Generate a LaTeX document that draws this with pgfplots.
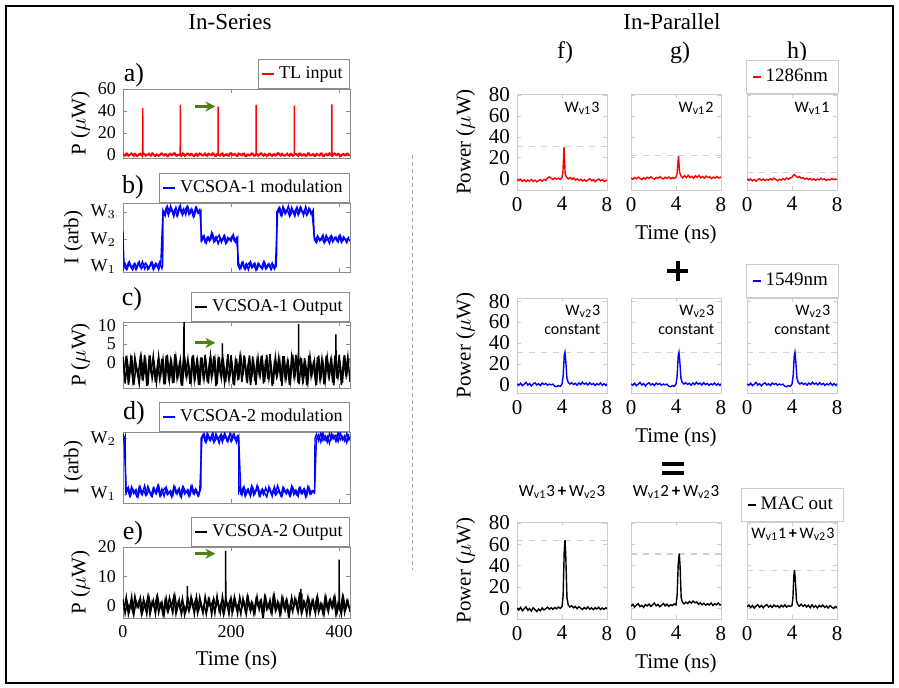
\documentclass[border=0pt]{standalone}
\usepackage{fontspec}
\setmainfont{Liberation Serif}
\newfontfamily\carl{Carlito}
\usepackage{pgfplots}
\usepackage{pgfplotstable}
\pgfplotsset{compat=1.18}
\usetikzlibrary{arrows.meta}

\definecolor{grn}{RGB}{78,128,22}
\definecolor{frameL}{RGB}{140,140,140}
\definecolor{frameR}{RGB}{205,205,205}

% blue 1549nm pulse, same in all three middle panels
\pgfplotstableread{
t p
0 0.8
0.16 -0.6
0.32 1.4
0.48 -1.0
0.64 0.5
0.8 2.2
0.96 -0.4
1.12 1.0
1.28 -1.2
1.44 0.7
1.6 1.8
1.76 -0.3
1.92 0.9
2.08 -0.8
2.24 1.5
2.4 0.2
2.56 1.1
2.72 -0.5
2.88 0.6
3.04 -0.2
3.2 0.4
3.36 -1.4
3.52 -2.0
3.68 -0.9
3.84 -1.6
4.0 0.5
4.1 8
4.2 28
4.26 31
4.34 22
4.44 6
4.56 2.0
4.7 0.6
4.86 1.8
5.02 0.2
5.18 1.3
5.34 -0.5
5.5 1.6
5.66 0.1
5.82 2.3
5.98 0.4
6.14 1.5
6.3 -0.3
6.46 1.9
6.62 0.0
6.78 1.2
6.94 -0.7
7.1 0.9
7.26 -0.2
7.42 1.6
7.58 -0.6
7.74 1.0
7.9 -0.8
8.0 0.9
}\bluepulse

\tikzset{ann/.style={font=\carl\fontsize{8}{9.5}\selectfont, align=right, inner sep=0pt}}

\pgfplotsset{
  legend image code/.code={\draw[#1,line width=0.8pt] (0pt,0pt) -- (6pt,0pt);},
  base/.style={scale only axis, tick align=inside, major tick length=2pt,
    /pgf/number format/assume math mode=true, legend cell align=left},
  lp/.style={base, width=113.5pt, xmin=0, xmax=420, xtick={0,200,400}, xticklabels={},
    axis line style={frameL}, tick style={frameL},
    tick label style={font=\fontsize{9}{9}\selectfont},
    label style={font=\fontsize{10.5}{11}\selectfont},
    ylabel shift=-3pt,
    legend style={at={(1,1)}, anchor=south east, draw=frameL,
      font=\fontsize{9}{10}\selectfont, inner sep=1.5pt}},
  rp/.style={base, width=45pt, xmin=0, xmax=8, xtick={0,4,8}, ytick={0,20,40,60,80},
    axis line style={frameR}, tick style={frameR},
    tick label style={font=\fontsize{10.5}{11}\selectfont},
    label style={font=\fontsize{10.5}{11}\selectfont},
    legend style={at={(0.5,1)}, anchor=south, draw=frameR,
      font=\fontsize{9.5}{10}\selectfont, inner xsep=3pt, inner ysep=2.5pt}},
  r1/.style={rp, height=48pt, ymin=-11, ymax=81},
  r2/.style={rp, height=47.5pt, ymin=-8, ymax=83},
  r3/.style={rp, height=48.5pt, ymin=-10, ymax=81},
  refl/.style={gray!35, dashed, line width=0.6pt, forget plot},
  ttl/.style={title style={font=\carl\fontsize{8.5}{9}\selectfont, yshift=2pt}},
}

\begin{document}
\begin{tikzpicture}
\begin{scope}[x=0.5pt,y=-0.5pt]
\path[use as bounding box] (0,0) rectangle (899,688);
\draw[line width=1pt] (6,6) rectangle (893,683);
\node[font=\fontsize{11.5}{12}\selectfont] at (230,22) {In-Series};
\node[font=\fontsize{11.5}{12}\selectfont] at (672,22) {In-Parallel};
\draw[gray!70, dash pattern=on 2pt off 1.5pt, line width=0.5pt] (412,155) -- (412,570);
\node[font=\fontsize{13}{13}\selectfont] at (134,75) {a)};
\node[font=\fontsize{13}{13}\selectfont] at (133,187) {b)};
\node[font=\fontsize{13}{13}\selectfont] at (132,299) {c)};
\node[font=\fontsize{13}{13}\selectfont] at (134,413) {d)};
\node[font=\fontsize{13}{13}\selectfont] at (133,533) {e)};
\node[font=\fontsize{12}{12}\selectfont] at (565,53) {f)};
\node[font=\fontsize{12}{12}\selectfont] at (680,53) {g)};
\node[font=\fontsize{12}{12}\selectfont] at (797,53) {h)};
\draw[line width=2pt] (667,271) -- (688,271) (677.5,261) -- (677.5,281);
\draw[line width=2pt] (662,464) -- (684,464) (662,473) -- (684,473);
\end{scope}

% ---------------- In-Series ----------------
\begin{axis}[lp, at={(61.5pt,-79pt)}, anchor=south west, height=34.5pt,
  ymin=-3, ymax=60, ytick={0,20,40,60}, ylabel={P ($\mu$W)}]
\addplot[red, line width=0.7pt] coordinates {
(0,0.8) (4,-1.2) (8,1.1) (12,-0.6) (16,1.5) (20,-1.4) (24,0.3) (28,-0.9) (32,1.2) (36,-1.6)
(36.4,0.2) (36.6,42.5) (36.8,0.1)
(40,0.7) (44,-0.4) (48,1.3) (52,-1.1) (56,0.9) (60,-1.5) (64,0.2) (68,-0.8) (72,1.4) (76,-1.0)
(80,0.6) (84,-1.3) (88,1.0) (92,-0.5) (96,1.6) (100,-1.2) (104,0.4)
(105.8,0.3) (106,45.5) (106.2,0.2)
(108,-1.4) (112,1.1) (116,-0.7) (120,1.3) (124,-0.9) (128,0.5) (132,-1.6) (136,1.2) (140,-0.3)
(144,0.9) (148,-1.1) (152,1.5) (156,-1.3) (160,0.7) (164,-0.6) (168,1.1) (172,-1.5)
(175.8,0.3) (176,44) (176.2,0.2)
(180,-1.0) (184,1.4) (188,-0.8) (192,0.8) (196,-1.2) (200,1.6) (204,-0.5) (208,0.6) (212,-1.4)
(216,1.0) (220,-0.9) (224,1.3) (228,-1.6) (232,0.4) (236,-0.7) (240,1.2) (244,-1.1)
(246.1,0.2) (246.3,45.5) (246.5,0.1)
(248,0.9) (252,-0.4) (256,1.5) (260,-1.3) (264,0.5) (268,-1.0) (272,1.1) (276,-1.5) (280,0.8)
(284,-0.6) (288,1.4) (292,-1.2) (296,0.2) (300,-0.9) (304,1.3) (308,-1.4) (312,0.7) (316,-0.5)
(316.8,0.2) (317,44.8) (317.2,0.1)
(320,1.0) (324,-1.6) (328,1.2) (332,-0.8) (336,0.6) (340,-1.1) (344,1.5) (348,-0.7) (352,0.9)
(356,-1.3) (360,0.4) (364,-1.0) (368,1.3) (372,-1.5) (376,1.1) (380,-0.6) (384,0.8)
(386.4,0.2) (386.6,46) (386.8,0.1)
(388,-1.2) (392,1.4) (396,-0.9) (400,0.5) (404,-1.3) (408,1.0) (412,-0.7) (416,1.2) (420,-1.1)
};
\addlegendentry{TL input}
\addplot[red, line width=0.7pt, forget plot] coordinates {
(2,-0.9) (6,1.3) (10,-1.4) (14,0.6) (18,-0.2) (22,1.1) (26,-1.5) (30,0.9) (34,-0.6) (38,1.4)
(42,-1.2) (46,0.3) (50,-0.8) (54,1.6) (58,-1.0) (62,0.5) (66,-1.3) (70,1.2) (74,-0.4) (78,0.8)
(82,-1.6) (86,1.0) (90,-0.7) (94,1.5) (98,-1.1) (102,0.2) (106,-0.9) (110,1.3) (114,-1.4) (118,0.7)
(122,-0.3) (126,1.1) (130,-1.2) (134,0.6) (138,-1.5) (142,1.4) (146,-0.8) (150,0.4) (154,-1.0) (158,1.2)
(162,-0.5) (166,1.6) (170,-1.3) (174,0.9) (178,-0.7) (182,1.0) (186,-1.4) (190,0.3) (194,-1.1) (198,1.5)
(202,-0.6) (206,0.8) (210,-1.2) (214,1.3) (218,-0.2) (222,1.1) (226,-1.5) (230,0.5) (234,-0.9) (238,1.4)
(242,-1.0) (246,0.7) (250,-1.3) (254,1.2) (258,-0.4) (262,0.9) (266,-1.6) (270,1.0) (274,-0.8) (278,0.6)
(282,-1.1) (286,1.5) (290,-0.5) (294,1.3) (298,-1.2) (302,0.4) (306,-0.7) (310,1.1) (314,-1.4) (318,0.8)
(322,-0.3) (326,1.2) (330,-1.0) (334,0.6) (338,-1.5) (342,1.4) (346,-0.9) (350,0.2) (354,-1.2) (358,1.0)
(362,-0.6) (366,1.3) (370,-1.3) (374,0.5) (378,-0.8) (382,1.6) (386,-1.1) (390,0.9) (394,-0.4) (398,1.2)
(402,-1.4) (406,0.7) (410,-0.7) (414,1.1) (418,-1.0)
};
\draw[grn, line width=1.6pt, -{Stealth[length=5pt,width=5pt]}] (axis cs:134,44) -- (axis cs:171,44);
\end{axis}

\begin{axis}[lp, at={(61.5pt,-136pt)}, anchor=south west, height=34.5pt,
  ymin=0.82, ymax=3.33, ytick={1,2,3}, yticklabels={W$_1$,W$_2$,W$_3$}, ylabel={I (arb)}]
\addplot[blue, line width=0.7pt] coordinates {
(0,2.3) (1,1.6) (2,1.0)
(4,1.12) (8,0.94) (12,1.18) (16,0.98) (20,1.10) (24,0.90) (28,1.15) (32,1.00) (36,1.20) (40,0.93)
(44,1.08) (48,0.96) (52,1.17) (56,0.91) (60,1.13) (64,0.99) (68,1.19) (72,0.95) (73.5,1.05)
(74,3.0) (76,2.92) (80,3.15) (84,2.88) (88,3.22) (92,2.95) (96,3.10) (100,2.85) (104,3.18)
(108,2.97) (112,3.12) (116,2.90) (120,3.20) (124,2.94) (128,3.08) (132,2.87) (136,3.16)
(140,2.96) (144,3.05)
(144.6,2.0) (148,2.12) (152,1.90) (156,2.08) (160,1.95) (164,2.25) (168,1.92) (172,2.10)
(176,1.85) (180,2.06) (184,1.97) (188,2.15) (192,1.89) (196,2.04) (200,1.94) (204,2.18)
(208,1.91) (212,2.07)
(212.7,1.05) (216,0.93) (220,1.16) (224,0.97) (228,1.12) (232,0.90) (236,1.19) (240,1.00)
(244,1.14) (248,0.92) (252,1.10) (256,0.97) (260,1.18) (264,0.94) (268,1.09) (272,0.99)
(276,1.15) (280,0.92) (284,1.06)
(284.6,3.0) (288,3.14) (292,2.90) (296,3.20) (300,2.93) (304,3.09) (308,2.86) (312,3.17)
(316,2.95) (320,3.11) (324,2.89) (328,3.19) (332,2.98) (336,3.06) (340,2.88) (344,3.14)
(348,2.92) (352,3.08)
(353.9,2.0) (356,1.93) (360,2.14) (364,1.96) (368,2.09) (372,1.88) (376,2.16) (380,1.99)
(384,2.11) (388,1.91) (392,2.07) (396,1.95) (400,2.13) (404,1.90) (408,2.10) (412,1.97)
(416,2.05) (420,1.94)
};
\addlegendentry{VCSOA-1 modulation}
\addplot[blue, line width=0.7pt, forget plot] coordinates {
(2,1.08) (6,0.92) (10,1.16) (14,1.01) (18,0.89) (22,1.13) (26,0.97) (30,1.19) (34,0.94) (38,1.06)
(42,1.15) (46,0.91) (50,1.04) (54,1.17) (58,0.96) (62,1.11) (66,0.90) (70,1.14)
(74,3.06) (78,2.86) (82,3.21) (86,2.99) (90,3.13) (94,2.84) (98,3.17) (102,2.93) (106,3.24)
(110,2.89) (114,3.04) (118,3.19) (122,2.91) (126,3.11) (130,2.83) (134,3.15) (138,2.98) (142,3.09)
(146,1.96) (150,2.14) (154,1.87) (158,2.09) (162,1.99) (166,2.20) (170,1.93) (174,2.05) (178,2.16)
(182,1.90) (186,2.11) (190,1.86) (194,2.08) (198,2.00) (202,2.13) (206,1.95) (210,2.06)
(214,1.13) (218,0.95) (222,1.18) (226,0.91) (230,1.07) (234,1.16) (238,0.98) (242,1.11) (246,0.89)
(250,1.14) (254,1.02) (258,0.93) (262,1.17) (266,0.96) (270,1.12) (274,0.90) (278,1.09) (282,1.01)
(286,2.94) (290,3.16) (294,2.87) (298,3.12) (302,3.00) (306,3.22) (310,2.90) (314,3.07) (318,2.85)
(322,3.18) (326,2.96) (330,3.13) (334,2.88) (338,3.20) (342,2.95) (346,3.10) (350,2.92)
(354,2.12) (358,1.89) (362,2.06) (366,1.97) (370,2.17) (374,1.92) (378,2.03) (382,1.86) (386,2.13)
(390,1.98) (394,2.09) (398,1.91) (402,2.15) (406,1.94) (410,2.05) (414,1.88) (418,2.11)
};
\end{axis}

\begin{axis}[lp, at={(61.5pt,-194pt)}, anchor=south west, height=33pt,
  ymin=-7, ymax=11, ytick={0,5,10}, ylabel={P ($\mu$W)}]
\addplot[black, line width=0.75pt] coordinates {
(0,1.5) (4,-5.8) (8,0.2) (12,-4.1) (16,1.9) (20,-6.2) (24,-1.0) (28,-3.5) (32,1.2) (36,-5.0)
(40,2.0) (44,-6.4) (48,0.6) (52,-2.8) (56,1.7) (60,-5.5) (64,-0.4) (68,-4.6) (72,1.0) (76,-6.0)
(80,1.8) (84,-3.9) (88,0.4) (92,-5.7) (96,2.2) (100,-4.4) (104,-0.8) (108,-6.3) (112,1.4)
(113,11) (113.3,-1)
(116,-3.2) (120,0.9) (124,-5.9) (128,1.6) (132,-4.8) (136,-0.2) (140,-6.1) (144,1.3) (148,-3.6)
(152,2.1) (156,-5.3) (160,0.1) (164,-4.2) (168,1.7) (172,-6.5) (176,0.7) (180,-3.0)
(183.8,1.5) (184,5.2) (184.2,-1)
(188,-5.6) (192,-0.6) (196,-4.9) (200,2.0) (204,-6.0) (208,0.3) (212,-3.8) (216,1.1) (220,-5.4)
(224,1.9) (228,-4.0) (232,-0.1) (236,-6.2) (240,1.6) (244,-5.1) (248,0.5) (252,-3.3) (256,1.8)
(260,-5.8) (264,0.8) (268,-4.5) (272,2.2) (276,-6.4) (280,-0.3) (284,-3.7) (288,1.2) (292,-5.2)
(296,1.7) (300,-4.3) (304,0.0) (308,-6.1) (312,1.4) (316,-3.4) (320,2.0) (324,-5.6)
(324.8,0.5) (325,10.4) (325.2,-1)
(328,0.6) (332,-4.7) (336,1.1) (340,-6.3) (344,1.9) (348,-3.9) (352,-0.5) (356,-5.0) (360,1.5)
(364,-4.1) (368,0.9) (372,-6.0) (376,1.8) (380,-3.6) (384,0.2) (388,-5.5) (392,1.3)
(393.8,0.8) (394,7.6) (394.2,-1)
(396,-4.4) (400,2.1) (404,-6.2) (408,0.4) (412,-3.1) (416,1.6) (420,-5.3)
};
\addlegendentry{VCSOA-1 Output}
\addplot[black, line width=0.75pt, forget plot] coordinates {
(2,-3.0) (6,1.8) (10,-6.1) (14,0.5) (18,-4.7) (22,1.4) (26,-2.2) (30,-5.9) (34,1.1) (38,-3.8)
(42,0.3) (46,-6.3) (50,1.9) (54,-4.4) (58,-0.7) (62,-5.5) (66,1.6) (70,-3.3) (74,0.8) (78,-6.0)
(82,2.1) (86,-4.9) (90,-0.2) (94,-5.6) (98,1.2) (102,-3.5) (106,0.6) (110,-6.4) (114,1.7) (118,-4.0)
(122,-1.1) (126,-5.2) (130,2.0) (134,-3.7) (138,0.4) (142,-6.2) (146,1.3) (150,-4.6) (154,-0.5) (158,-5.8)
(162,1.8) (166,-2.9) (170,0.9) (174,-6.0) (178,1.5) (182,-4.3) (186,0.0) (190,-5.4) (194,2.2) (198,-3.6)
(202,-0.8) (206,-6.3) (210,1.0) (214,-4.8) (218,1.6) (222,-3.1) (226,0.2) (230,-5.7) (234,1.9) (238,-4.1)
(242,-0.4) (246,-6.1) (250,1.2) (254,-3.4) (258,0.7) (262,-5.3) (266,2.0) (270,-4.5) (274,-0.9) (278,-5.9)
(282,1.4) (286,-3.2) (290,0.5) (294,-6.4) (298,1.7) (302,-4.2) (306,-0.3) (310,-5.0) (314,2.1) (318,-3.9)
(322,0.8) (326,-6.0) (330,1.1) (334,-4.6) (338,-0.6) (342,-5.5) (346,1.6) (350,-3.0) (354,0.3) (358,-6.2)
(362,1.9) (366,-4.4) (370,-0.1) (374,-5.1) (378,1.3) (382,-3.7) (386,0.6) (390,-6.3) (394,1.5) (398,-4.0)
(402,-0.7) (406,-5.6) (410,2.0) (414,-3.3) (418,1.0)
};
\draw[grn, line width=1.6pt, -{Stealth[length=5pt,width=5pt]}] (axis cs:134,5.3) -- (axis cs:171,5.3);
\end{axis}

\begin{axis}[lp, at={(61.5pt,-251.5pt)}, anchor=south west, height=35.5pt,
  ymin=0.84, ymax=2.11, ytick={1,2}, yticklabels={W$_1$,W$_2$}, ylabel={I (arb)}]
\addplot[blue, line width=0.7pt] coordinates {
(0,2.08) (2,1.95) (4,2.02) (5,1.05)
(8,1.10) (12,0.98) (16,1.13) (20,1.01) (24,1.08) (28,0.96) (32,1.12) (36,1.00) (40,1.15)
(44,0.99) (48,1.07) (52,0.97) (56,1.11) (60,1.02) (64,1.14) (68,0.98) (72,1.09) (76,0.96)
(80,1.12) (84,1.01) (88,1.06) (92,0.97) (96,1.13) (100,1.00) (104,1.10) (108,0.95) (112,1.12)
(116,1.03) (120,1.08) (124,0.98) (128,1.14) (132,1.00) (136,1.07) (140,0.97) (144,1.11)
(144.6,2.0) (148,2.06) (152,1.94) (156,2.09) (160,1.97) (164,2.04) (168,1.92) (172,2.08)
(176,1.98) (180,2.05) (184,1.93) (188,2.10) (192,1.96) (196,2.03) (200,1.94) (204,2.07)
(208,1.97) (212,2.04) (214,2.00)
(214.5,1.05) (216,1.10) (220,0.98) (224,1.13) (228,1.00) (232,1.08) (236,0.96) (240,1.12)
(244,1.01) (248,1.15) (252,0.97) (256,1.07) (260,0.99) (264,1.11) (268,1.02) (272,1.09)
(276,0.96) (280,1.13) (284,1.00) (288,1.06) (292,0.97) (296,1.12) (300,1.03) (304,1.08)
(308,0.98) (312,1.14) (316,0.99) (320,1.07) (324,0.96) (328,1.11) (332,1.01) (336,1.09)
(340,0.97) (344,1.12) (348,1.00) (352,1.06) (354.8,1.04)
(355.2,2.0) (358,2.07) (362,1.95) (366,2.09) (370,1.96) (374,2.04) (378,1.93) (382,2.08)
(386,1.98) (390,2.05) (394,1.94) (398,2.10) (402,1.97) (406,2.03) (410,1.95) (414,2.08)
(418,1.97) (420,2.03)
};
\addlegendentry{VCSOA-2 modulation}
\addplot[blue, line width=0.7pt, forget plot] coordinates {
(2,2.04)
(6,1.02) (10,1.12) (14,0.97) (18,1.09) (22,1.04) (26,0.95) (30,1.13) (34,1.00) (38,1.07) (42,0.98)
(46,1.14) (50,1.03) (54,0.96) (58,1.10) (62,1.01) (66,1.15) (70,0.97) (74,1.06) (78,1.11) (82,0.99)
(86,1.04) (90,0.95) (94,1.13) (98,1.02) (102,1.08) (106,0.97) (110,1.12) (114,1.00) (118,1.05) (122,0.96)
(126,1.14) (130,1.01) (134,1.09) (138,0.98) (142,1.06)
(146,1.99) (150,2.08) (154,1.93) (158,2.05) (162,1.96) (166,2.10) (170,1.95) (174,2.02) (178,1.91)
(182,2.07) (186,1.98) (190,2.04) (194,1.94) (198,2.09) (202,1.97) (206,2.06) (210,1.92) (214,2.03)
(218,1.03) (222,1.11) (226,0.96) (230,1.08) (234,1.00) (238,1.14) (242,0.98) (246,1.05) (250,1.12) (254,0.97)
(258,1.09) (262,1.02) (266,0.95) (270,1.13) (274,1.01) (278,1.07) (282,0.99) (286,1.15) (290,1.04) (294,0.96)
(298,1.10) (302,1.00) (306,1.06) (310,0.97) (314,1.12) (318,1.03) (322,0.98) (326,1.11) (330,1.01) (334,1.08)
(338,0.95) (342,1.13) (346,1.00) (350,1.06) (354,1.02)
(358,1.98) (362,2.06) (366,1.93) (370,2.09) (374,1.96) (378,2.03) (382,1.91) (386,2.08) (390,1.99)
(394,2.05) (398,1.94) (402,2.10) (406,1.97) (410,2.04) (414,1.92) (418,2.07)
};
\end{axis}

\begin{axis}[lp, at={(61.5pt,-309pt)}, anchor=south west, height=35.5pt,
  ymin=-4.3, ymax=20, ytick={0,10,20}, ylabel={P ($\mu$W)},
  xticklabels={0,200,400}, xlabel={Time (ns)}]
\addplot[black, line width=0.75pt] coordinates {
(0,2.1) (4,-2.8) (8,0.9) (12,-1.7) (16,3.0) (20,-3.2) (24,1.3) (28,-0.6) (32,2.6) (36,-2.4)
(40,0.4) (44,-3.0) (48,2.8) (52,-1.2) (56,1.7) (60,-2.9) (64,3.1) (68,-0.9) (72,1.1) (76,-3.3)
(80,2.4) (84,-1.9) (88,0.7) (92,-2.6) (96,3.2) (100,-1.4) (104,1.9) (108,-3.1) (112,0.3)
(116,-2.2) (118.8,0.5) (119,6.7) (119.2,0)
(120,2.7) (124,-0.8) (128,1.5) (132,-3.0) (136,2.9) (140,-1.6) (144,0.8) (148,-2.7) (152,3.0)
(156,-1.1) (160,1.8) (164,-3.2) (168,2.3) (172,-0.5) (176,1.2) (180,-2.5) (184,3.1) (188,-1.8)
(189.8,0.5) (190,18.7) (190.2,0)
(192,0.6) (196,-3.0) (200,2.5) (204,-1.3) (208,1.6) (212,-2.8) (216,2.9) (220,-0.7) (224,1.0)
(228,-3.1) (232,2.2) (236,-2.0) (240,0.5) (244,-2.6) (248,3.0) (252,-1.5) (256,1.4) (260,-3.3)
(264,2.6) (268,-0.9) (272,1.9) (276,-2.3) (280,3.2) (284,-1.2) (288,0.8) (292,-2.9) (296,2.4)
(300,-1.7) (304,1.3) (308,-3.0) (312,2.8) (316,-0.6) (320,1.7) (324,-2.4)
(326.8,0.5) (327,4.5) (327.3,0) (328,3.1) (328.8,0.4) (329,5.7) (329.2,0) (330.8,0.5) (331,4.0) (331.2,0)
(332,-1.9) (336,0.9) (340,-3.2) (344,2.0) (348,-1.0) (352,1.5) (356,-2.7) (360,2.9) (364,-1.4)
(368,0.4) (372,-3.0) (376,2.3) (380,-2.1) (384,1.8) (388,-0.8) (392,3.0) (396,-2.6)
(399.8,0.5) (400,15.7) (400.2,0)
(400.6,1.1) (404,-3.1) (408,2.5) (412,-1.3) (416,1.6) (420,-2.2)
};
\addlegendentry{VCSOA-2 Output}
\addplot[black, line width=0.75pt, forget plot] coordinates {
(2,-1.5) (6,2.9) (10,-3.0) (14,0.8) (18,-2.1) (22,3.2) (26,-0.4) (30,1.6) (34,-2.8) (38,2.2)
(42,-1.0) (46,3.0) (50,-3.2) (54,1.2) (58,-0.7) (62,2.6) (66,-2.5) (70,0.5) (74,-3.1) (78,1.9)
(82,-1.7) (86,2.7) (90,-0.3) (94,3.1) (98,-2.9) (102,1.0) (106,-1.4) (110,2.4) (114,-3.3) (118,0.6)
(122,-2.0) (126,3.0) (130,-0.8) (134,1.7) (138,-2.6) (142,2.8) (146,-1.2) (150,0.3) (154,-3.0) (158,2.1)
(162,-0.6) (166,1.4) (170,-2.7) (174,3.2) (178,-1.9) (182,0.9) (186,-3.2) (190,2.5) (194,-0.5) (198,1.8)
(202,-2.4) (206,2.9) (210,-1.1) (214,0.7) (218,-3.0) (222,2.3) (226,-1.6) (230,3.1) (234,-0.9) (238,1.2)
(242,-2.8) (246,2.0) (250,-0.2) (254,1.5) (258,-3.1) (262,2.7) (266,-1.3) (270,0.4) (274,-2.5) (278,3.0)
(282,-1.8) (286,1.1) (290,-2.9) (294,2.6) (298,-0.7) (302,1.9) (306,-3.3) (310,0.8) (314,-2.2) (318,2.4)
(322,-1.0) (326,3.1) (330,-2.6) (334,1.3) (338,-0.5) (342,2.8) (346,-3.0) (350,1.6) (354,-1.5) (358,2.2)
(362,-2.3) (366,0.6) (370,-2.8) (374,3.0) (378,-1.2) (382,1.7) (386,-0.4) (390,2.5) (394,-3.1) (398,0.9)
(402,-1.9) (406,2.9) (410,-2.4) (414,1.4) (418,-0.8)
};
\draw[grn, line width=1.6pt, -{Stealth[length=5pt,width=5pt]}] (axis cs:134,17.7) -- (axis cs:171,17.7);
\end{axis}

% ---------------- In-Parallel, row 1 ----------------
\begin{axis}[r1, at={(258.5pt,-95pt)}, anchor=south west, ylabel={Power ($\mu$W)}]
\addplot[refl] coordinates {(0,30.5) (8,30.5)};
\addplot[red, line width=0.7pt] coordinates {
(0,-0.5) (0.16,-2.1) (0.32,-0.8) (0.48,-2.6) (0.64,-1.2) (0.8,-3.0) (0.96,-1.5) (1.12,-2.4)
(1.28,-0.9) (1.44,-2.8) (1.6,-1.6) (1.76,-3.2) (1.92,-2.0) (2.08,-1.1) (2.24,-2.5) (2.4,-0.7)
(2.56,-1.8) (2.72,0.4) (2.88,1.6) (3.04,0.2) (3.2,-1.0) (3.36,0.5) (3.52,-0.6) (3.68,0.3)
(3.84,-0.9) (4.0,0.8) (4.08,6) (4.18,30) (4.28,5) (4.4,1.2) (4.56,-0.4) (4.72,1.0) (4.88,-0.8)
(5.04,0.6) (5.2,-1.5) (5.36,-0.3) (5.52,-2.0) (5.68,-0.6) (5.84,-2.4) (6.0,-1.0) (6.16,-2.7)
(6.32,-1.3) (6.48,-0.2) (6.64,-2.2) (6.8,-1.0) (6.96,-2.9) (7.12,-1.4) (7.28,-0.5) (7.44,-2.3)
(7.6,-1.1) (7.76,-2.8) (7.92,-1.6) (8.0,-2.2)
};
\node[ann, anchor=north east] at (rel axis cs:0.92,0.92) {W\textsubscript{v1}3};
\end{axis}

\begin{axis}[r1, at={(315.5pt,-95pt)}, anchor=south west, yticklabels={}, xlabel={Time (ns)}]
\addplot[refl] coordinates {(0,22.3) (8,22.3)};
\addplot[red, line width=0.7pt] coordinates {
(0,0.5) (0.16,-0.8) (0.32,1.0) (0.48,-0.3) (0.64,1.4) (0.8,0.1) (0.96,-0.9) (1.12,0.8)
(1.28,-0.5) (1.44,1.2) (1.6,0.0) (1.76,1.6) (1.92,0.3) (2.08,-0.6) (2.24,1.1) (2.4,0.2)
(2.56,1.8) (2.72,0.4) (2.88,-0.4) (3.04,1.3) (3.2,0.1) (3.36,1.5) (3.52,-0.2) (3.68,0.9)
(3.84,0.0) (4.0,1.2) (4.1,5) (4.22,21.6) (4.32,6) (4.44,2.5) (4.6,0.6) (4.76,2.8) (4.92,1.0)
(5.08,3.1) (5.24,0.8) (5.4,2.2) (5.56,0.3) (5.72,2.6) (5.88,1.1) (6.04,3.0) (6.2,0.7)
(6.36,1.9) (6.52,0.2) (6.68,2.4) (6.84,0.9) (7.0,1.7) (7.16,-0.1) (7.32,1.4) (7.48,0.4)
(7.64,2.0) (7.8,0.6) (7.96,1.3) (8.0,0.8)
};
\node[ann, anchor=north east] at (rel axis cs:0.92,0.92) {W\textsubscript{v1}2};
\end{axis}

\begin{axis}[r1, at={(373.5pt,-95pt)}, anchor=south west, yticklabels={},
  legend image code/.code={\draw[#1,line width=0.8pt] (0pt,0pt) -- (4pt,0pt);}]
\addplot[refl] coordinates {(0,5.4) (8,5.4)};
\addplot[red, line width=0.7pt] coordinates {
(0,-0.3) (0.16,-1.8) (0.32,-0.6) (0.48,-2.2) (0.64,-0.9) (0.8,-2.5) (0.96,-1.0) (1.12,-0.2)
(1.28,-1.7) (1.44,-0.5) (1.6,-2.0) (1.76,-0.8) (1.92,-1.5) (2.08,-0.1) (2.24,-1.3) (2.4,0.3)
(2.56,-0.9) (2.72,-2.1) (2.88,-0.7) (3.04,-1.6) (3.2,-0.2) (3.36,-1.2) (3.52,0.4) (3.68,-0.8)
(3.84,0.6) (4.0,1.2) (4.1,2.8) (4.22,3.8) (4.34,2.5) (4.5,1.0) (4.66,1.8) (4.82,0.2) (4.98,0.9)
(5.14,-0.6) (5.3,0.4) (5.46,-1.1) (5.62,0.1) (5.78,-1.4) (5.94,-0.3) (6.1,-1.8) (6.26,-0.5)
(6.42,-1.2) (6.58,0.2) (6.74,-1.0) (6.9,-0.4) (7.06,-1.9) (7.22,-0.7) (7.38,-1.4) (7.54,0.0)
(7.7,-1.1) (7.86,-0.5) (8.0,-1.2)
};
\addlegendentry{1286nm}
\node[ann, anchor=north east] at (rel axis cs:0.92,0.92) {W\textsubscript{v1}1};
\end{axis}

% ---------------- row 2 ----------------
\begin{axis}[r2, at={(258.5pt,-196.5pt)}, anchor=south west, ylabel={Power ($\mu$W)}]
\addplot[refl] coordinates {(0,31) (8,31)};
\addplot[blue, line width=0.7pt] table[x=t, y=p] {\bluepulse};
\node[ann, anchor=north east] at (rel axis cs:0.93,0.93) {W\textsubscript{v2}3\\constant};
\end{axis}

\begin{axis}[r2, at={(315.5pt,-196.5pt)}, anchor=south west, yticklabels={}, xlabel={Time (ns)}]
\addplot[refl] coordinates {(0,31) (8,31)};
\addplot[blue, line width=0.7pt] table[x=t, y=p] {\bluepulse};
\node[ann, anchor=north east] at (rel axis cs:0.93,0.93) {W\textsubscript{v2}3\\constant};
\end{axis}

\begin{axis}[r2, at={(373.5pt,-196.5pt)}, anchor=south west, yticklabels={},
  legend image code/.code={\draw[#1,line width=0.8pt] (0pt,0pt) -- (4pt,0pt);}]
\addplot[refl] coordinates {(0,31) (8,31)};
\addplot[blue, line width=0.7pt] table[x=t, y=p] {\bluepulse};
\addlegendentry{1549nm}
\node[ann, anchor=north east] at (rel axis cs:0.93,0.93) {W\textsubscript{v2}3\\constant};
\end{axis}

% ---------------- row 3 ----------------
\begin{axis}[r3, ttl, at={(258.5pt,-309.5pt)}, anchor=south west, ylabel={Power ($\mu$W)},
  title={W\textsubscript{v1}3\,\textbf{+}\,W\textsubscript{v2}3}]
\addplot[refl] coordinates {(0,64) (8,64)};
\addplot[black, line width=0.7pt] coordinates {
(0,0.2) (0.16,-1.5) (0.32,0.9) (0.48,-2.2) (0.64,-0.4) (0.8,1.3) (0.96,-1.8) (1.12,-0.2)
(1.28,-2.6) (1.44,0.5) (1.6,-1.2) (1.76,-3.0) (1.92,-0.7) (2.08,-2.3) (2.24,0.4) (2.4,-1.5)
(2.56,-0.3) (2.72,1.0) (2.88,-0.8) (3.04,0.6) (3.2,-1.0) (3.36,0.8) (3.52,-0.5) (3.68,1.2)
(3.84,0.0) (4.0,1.5) (4.1,12) (4.2,55) (4.27,64) (4.34,48) (4.44,10) (4.56,3.0) (4.7,1.2)
(4.86,2.4) (5.02,0.5) (5.18,1.8) (5.34,-0.4) (5.5,1.5) (5.66,0.2) (5.82,-1.0) (5.98,0.8)
(6.14,-0.6) (6.3,1.3) (6.46,-0.9) (6.62,0.4) (6.78,-1.3) (6.94,0.6) (7.1,-0.7) (7.26,1.0)
(7.42,-1.1) (7.58,0.3) (7.74,-0.9) (7.9,0.5) (8.0,-0.4)
};
\end{axis}

\begin{axis}[r3, ttl, at={(315.5pt,-309.5pt)}, anchor=south west, yticklabels={}, xlabel={Time (ns)},
  title={W\textsubscript{v1}2\,\textbf{+}\,W\textsubscript{v2}3}]
\addplot[refl] coordinates {(0,51) (8,51)};
\addplot[black, line width=0.7pt] coordinates {
(0,2.0) (0.16,3.8) (0.32,1.2) (0.48,3.0) (0.64,4.4) (0.8,1.6) (0.96,2.8) (1.12,0.9) (1.28,3.5)
(1.44,2.2) (1.6,4.0) (1.76,1.8) (1.92,3.2) (2.08,5.0) (2.24,2.4) (2.4,3.6) (2.56,1.5) (2.72,3.0)
(2.88,4.6) (3.04,2.3) (3.2,3.9) (3.36,1.9) (3.52,3.3) (3.68,2.6) (3.84,4.1) (4.0,3.2) (4.1,12)
(4.2,42) (4.29,51.5) (4.36,40) (4.46,10) (4.58,5.5) (4.72,4.2) (4.88,5.8) (5.04,4.5) (5.2,6.5)
(5.36,5.0) (5.52,6.8) (5.68,5.2) (5.84,6.0) (6.0,3.8) (6.16,5.2) (6.32,3.4) (6.48,4.8) (6.64,2.9)
(6.8,4.4) (6.96,3.1) (7.12,5.0) (7.28,2.7) (7.44,4.2) (7.6,3.3) (7.76,4.9) (7.92,3.0) (8.0,3.8)
};
\end{axis}

\begin{axis}[r3, at={(373.5pt,-309.5pt)}, anchor=south west, yticklabels={},
  legend image code/.code={\draw[#1,line width=0.8pt] (0pt,0pt) -- (4pt,0pt);}]
\addplot[refl] coordinates {(0,35.4) (8,35.4)};
\addplot[black, line width=0.7pt] coordinates {
(0,1.5) (0.16,3.0) (0.32,0.8) (0.48,2.6) (0.64,0.2) (0.8,2.2) (0.96,3.4) (1.12,1.0) (1.28,2.8)
(1.44,0.5) (1.6,2.3) (1.76,3.6) (1.92,1.2) (2.08,2.7) (2.24,0.9) (2.4,3.1) (2.56,1.6) (2.72,2.4)
(2.88,0.7) (3.04,2.9) (3.2,1.4) (3.36,3.2) (3.52,1.1) (3.68,2.5) (3.84,1.8) (4.0,2.6) (4.08,10)
(4.16,30) (4.22,36) (4.3,26) (4.4,7) (4.52,3.5) (4.66,2.0) (4.82,4.0) (4.98,1.8) (5.14,3.4)
(5.3,1.2) (5.46,2.9) (5.62,0.6) (5.78,3.3) (5.94,1.0) (6.1,2.5) (6.26,0.4) (6.42,2.8) (6.58,1.3)
(6.74,3.0) (6.9,0.9) (7.06,2.2) (7.22,0.3) (7.38,2.6) (7.54,1.1) (7.7,0.0) (7.86,1.7) (8.0,0.6)
};
\addlegendentry{MAC out}
\node[ann, align=center, anchor=center] at (rel axis cs:0.51,0.87) {W\textsubscript{v1}1\,\textbf{+}\,W\textsubscript{v2}3};
\end{axis}
\end{tikzpicture}
\end{document}
